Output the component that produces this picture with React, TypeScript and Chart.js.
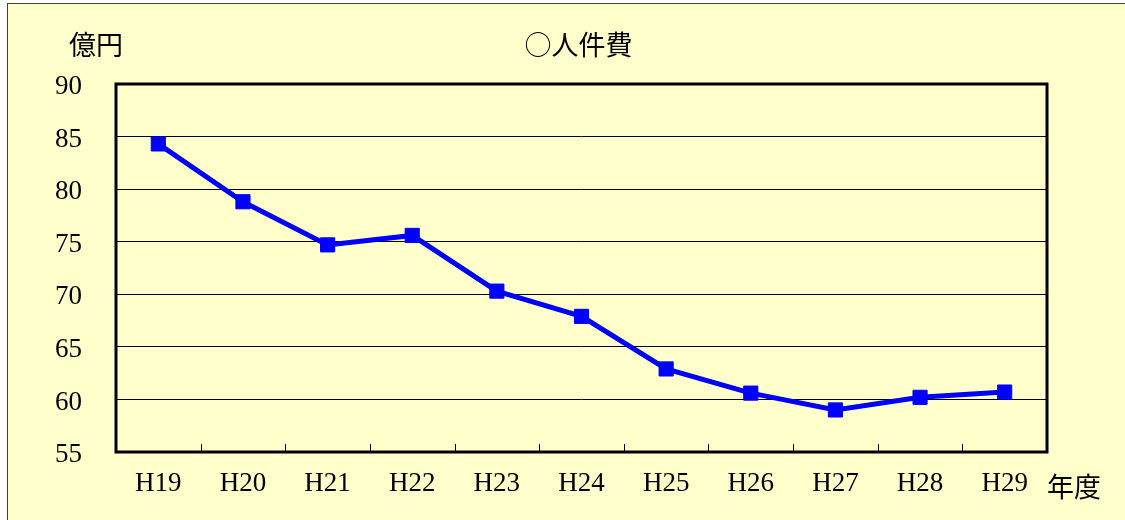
import React, { useEffect, useRef } from "react";
import { Chart, registerables } from "chart.js";

Chart.register(...registerables);

const categories = ["H19", "H20", "H21", "H22", "H23", "H24", "H25", "H26", "H27", "H28", "H29"];
const personnelCost = [84.3, 78.8, 74.7, 75.6, 70.3, 67.9, 62.9, 60.6, 59.0, 60.2, 60.7];
const yTicks = [55, 60, 65, 70, 75, 80, 85, 90];
const titleText = "○人件費";
const yUnitText = "億円";
const xUnitText = "年度";

const BG = "#FFFFCC";
const numFont = { family: "'Liberation Serif', 'DejaVu Serif', serif", size: 27 };
const cjkFont = "27px 'Noto Sans CJK JP', sans-serif";

const framePlugin = {
  id: "frame",
  afterDraw(chart: any) {
    const { ctx, chartArea, scales } = chart;
    const xs = scales.x;
    ctx.save();
    ctx.strokeStyle = "#000";
    ctx.lineWidth = 1;
    for (let i = 1; i < categories.length; i++) {
      const px = Math.round((xs.getPixelForValue(i - 1) + xs.getPixelForValue(i)) / 2) + 0.5;
      ctx.beginPath();
      ctx.moveTo(px, chartArea.bottom);
      ctx.lineTo(px, chartArea.bottom - 8);
      ctx.stroke();
    }
    ctx.lineWidth = 3;
    ctx.strokeRect(chartArea.left, chartArea.top, chartArea.right - chartArea.left, chartArea.bottom - chartArea.top);
    ctx.fillStyle = "#000";
    ctx.font = cjkFont;
    ctx.textBaseline = "middle";
    ctx.textAlign = "center";
    ctx.fillText(titleText, (chartArea.left + chartArea.right) / 2 - 3, 41);
    ctx.textAlign = "left";
    ctx.fillText(yUnitText, 61, 41);
    ctx.fillText(xUnitText, chartArea.right, 483);
    ctx.restore();
  },
};

export default function App() {
  const ref = useRef<HTMLCanvasElement>(null);
  useEffect(() => {
    if (!ref.current) return;
    const chart = new Chart(ref.current, {
      type: "line",
      data: {
        labels: categories,
        datasets: [
          {
            data: personnelCost,
            borderColor: "#0000FF",
            backgroundColor: "#0000FF",
            borderWidth: 5,
            pointStyle: "rect",
            pointRadius: 10,
            pointBorderWidth: 1,
            pointBackgroundColor: "#0000FF",
            pointBorderColor: "#0000FF",
            tension: 0,
            fill: false,
          },
        ],
      },
      options: {
        animation: false,
        responsive: false,
        maintainAspectRatio: false,
        layout: { padding: { left: 0, top: 80, right: 78, bottom: 0 } },
        plugins: {
          legend: { display: false },
          title: { display: false },
          tooltip: { enabled: false },
        },
        scales: {
          x: {
            type: "category",
            offset: true,
            grid: { display: false, drawTicks: false },
            border: { display: false },
            ticks: { font: numFont, color: "#000", padding: 16, maxRotation: 0, autoSkip: false },
            afterFit: (s: any) => {
              s.height = 68;
            },
          },
          y: {
            min: 55,
            max: 90,
            grid: { color: "#000", lineWidth: 1, drawTicks: false },
            border: { display: false },
            ticks: { font: numFont, color: "#000", padding: 34, labelOffset: 3 },
            afterBuildTicks: (s: any) => {
              s.ticks = yTicks.map((v) => ({ value: v }));
            },
            afterFit: (s: any) => {
              s.width = 108;
            },
          },
        },
      },
      plugins: [framePlugin],
    });
    return () => chart.destroy();
  }, []);

  return (
    <div
      style={{
        position: "absolute",
        left: 7,
        top: 3,
        width: 1118,
        height: 517,
        borderTop: "1px solid #404040",
        borderLeft: "1px solid #404040",
        background: BG,
      }}
    >
      <canvas ref={ref} width={1117} height={516} style={{ display: "block", background: BG }} />
    </div>
  );
}
